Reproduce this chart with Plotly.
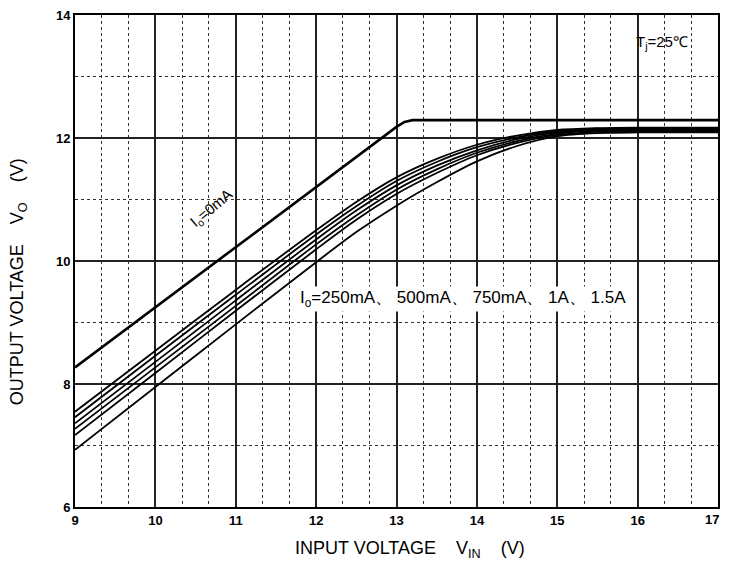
import plotly.graph_objects as go

vin = [9, 10, 11, 12, 12.5, 13, 13.5, 14, 14.5, 15, 15.5, 16, 17]
io_250 = [7.55, 8.54, 9.53, 10.50, 10.96, 11.36, 11.66, 11.89, 12.04, 12.13, 12.16, 12.17, 12.17]
io_500 = [7.46, 8.46, 9.45, 10.43, 10.89, 11.30, 11.61, 11.85, 12.01, 12.11, 12.15, 12.16, 12.16]
io_750 = [7.36, 8.36, 9.36, 10.35, 10.82, 11.23, 11.55, 11.80, 11.98, 12.09, 12.13, 12.14, 12.14]
io_1a = [7.27, 8.27, 9.27, 10.27, 10.74, 11.16, 11.49, 11.76, 11.95, 12.07, 12.12, 12.13, 12.13]
io_125 = [7.17, 8.18, 9.19, 10.19, 10.67, 11.09, 11.43, 11.72, 11.92, 12.05, 12.10, 12.11, 12.11]
io_15a = [6.93, 7.95, 8.97, 9.98, 10.47, 10.90, 11.28, 11.62, 11.87, 12.03, 12.08, 12.09, 12.09]

vin_0 = [9, 13.0, 13.1, 13.2, 17]
io_0 = [8.27, 12.18, 12.26, 12.29, 12.29]

x_ticks = [9, 10, 11, 12, 13, 14, 15, 16]
x_last_tick = 17
y_ticks = [6, 8, 10, 12, 14]

load_series = [("250mA", io_250), ("500mA", io_500), ("750mA", io_750),
               ("1A", io_1a), ("1.25A", io_125), ("1.5A", io_15a)]

fig = go.Figure()
fig.add_trace(go.Scatter(x=vin_0, y=io_0, mode="lines", name="0mA",
                         line=dict(color="black", width=2.6)))
for name, ys in load_series:
    fig.add_trace(go.Scatter(x=vin, y=ys, mode="lines", name=name,
                             line=dict(color="black", width=1.8, shape="spline", smoothing=0.8)))

font = "Liberation Sans, Arial, sans-serif"
fig.update_layout(
    width=713, height=558,
    margin=dict(l=67, r=3, t=7, b=59, autoexpand=False),
    paper_bgcolor="white", plot_bgcolor="white",
    showlegend=False,
    font=dict(family=font, color="black"),
    xaxis=dict(range=[9, 17], tickvals=x_ticks,
               showgrid=True, gridcolor="#222", gridwidth=1.6,
               minor=dict(tick0=9, dtick=1/3, showgrid=True, gridcolor="#333",
                          griddash="dot", gridwidth=1),
               showline=True, linecolor="black", linewidth=2, mirror=True,
               zeroline=False, ticks="", ticklabeloverflow="allow", automargin=False,
               tickfont=dict(size=13, family=font, weight="bold")),
    yaxis=dict(range=[6, 14], tickvals=y_ticks,
               showgrid=True, gridcolor="#222", gridwidth=1.6,
               minor=dict(tick0=6, dtick=1, showgrid=True, gridcolor="#333",
                          griddash="dot", gridwidth=1),
               showline=True, linecolor="black", linewidth=2, mirror=True,
               zeroline=False, ticks="", ticklabeloverflow="allow", automargin=False,
               tickfont=dict(size=13, family=font, weight="bold")),
)

# last x tick label, right-aligned so it stays inside the page
fig.add_annotation(x=x_last_tick, xref="x", yref="paper", y=0, yanchor="top",
                   xanchor="right", xshift=3, yshift=-3, text=str(x_last_tick),
                   showarrow=False, font=dict(size=13, family=font, weight="bold"))

# axis titles
fig.add_annotation(xref="paper", yref="paper", x=0.521, y=-0.087,
                   text="INPUT VOLTAGE    V<sub>IN</sub>    (V)", showarrow=False,
                   font=dict(size=18, family=font), xanchor="center", yanchor="middle")
fig.add_annotation(xref="paper", yref="paper", x=-0.0886, y=0.457,
                   text="OUTPUT VOLTAGE    V<sub>O</sub>    (V)", showarrow=False,
                   textangle=-90, font=dict(size=18, family=font),
                   xanchor="center", yanchor="middle")

fig.add_annotation(x=16.3, y=13.55, text="T<sub>j</sub>=25℃", showarrow=False,
                   font=dict(size=15, family=font), xanchor="center")
fig.add_annotation(x=10.7, y=10.85, text="I<sub>o</sub>=0mA", showarrow=False,
                   textangle=-40, font=dict(size=15, family=font))
fig.add_annotation(x=13.83, y=9.38,
                   text="I<sub>o</sub>=250mA、 500mA、 750mA、 1A、 1.5A",
                   showarrow=False, bgcolor="white",
                   font=dict(size=17, family=font))

fig.write_html("out.html")
